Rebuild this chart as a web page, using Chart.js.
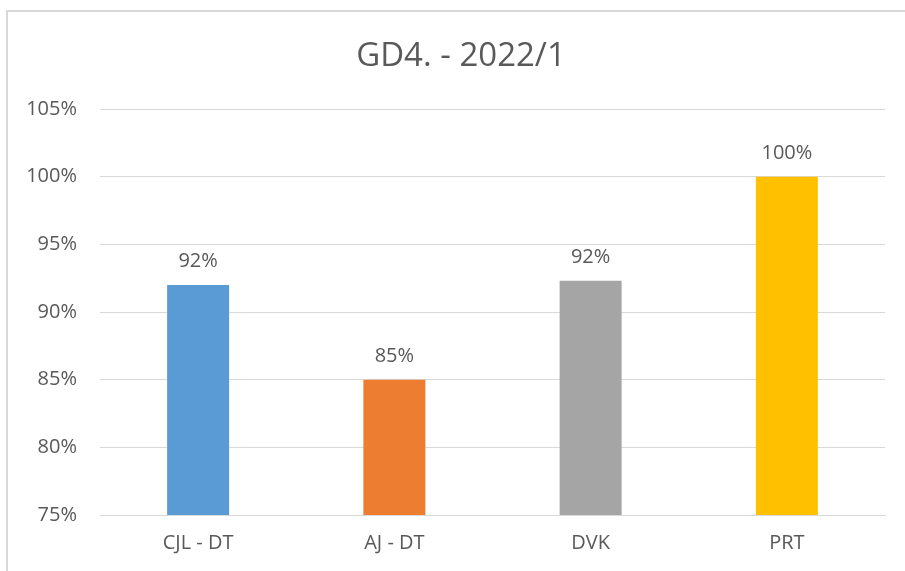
<!DOCTYPE html>
<html>
<head>
<meta charset="utf-8">
<script src="https://cdn.jsdelivr.net/npm/chart.js@4.4.0/dist/chart.umd.min.js"></script>
<style>
    html, body { margin: 0; padding: 0; background: #fff; overflow: hidden; width: 905px; height: 571px; }
    .frame { position: absolute; left: 6px; top: 10px; width: 940px; height: 600px; border: 2px solid #d9d9d9; box-sizing: border-box; }
    .wrap { position: absolute; left: 0; top: 0; width: 922px; height: 571px; }
</style>
</head>
<body>
<div class="frame"></div>
<div class="wrap"><canvas id="gradeChart"></canvas></div>
<script>
const categories = ['CJL - DT', 'AJ - DT', 'DVK', 'PRT'];
const values = [92.0, 85.0, 92.3, 100.0];
const barColors = ['#5B9BD5', '#ED7D31', '#A5A5A5', '#FFC000'];
const yTicks = [75, 80, 85, 90, 95, 100, 105];

const textColor = '#595959';
const gridColor = '#d9d9d9';
const fontFamily = '"Open Sans", sans-serif';

// draws the percent value above each bar
const valueLabels = {
    id: 'valueLabels',
    afterDatasetsDraw(chart) {
        const ctx = chart.ctx;
        const meta = chart.getDatasetMeta(0);
        ctx.save();
        ctx.font = '20px ' + fontFamily;
        ctx.fillStyle = textColor;
        ctx.textAlign = 'center';
        ctx.textBaseline = 'alphabetic';
        meta.data.forEach((bar, i) => {
            ctx.fillText(Math.round(values[i]) + '%', bar.x, bar.y - 18);
        });
        ctx.restore();
    }
};

const ctx = document.getElementById('gradeChart').getContext('2d');
const gradeChart = new Chart(ctx, {
    type: 'bar',
    data: {
        labels: categories,
        datasets: [{
            data: values,
            backgroundColor: barColors,
            borderWidth: 0,
            barPercentage: 0.316,
            categoryPercentage: 1
        }]
    },
    options: {
        responsive: true,
        maintainAspectRatio: false,
        animation: false,
        layout: { padding: 0 },
        plugins: {
            legend: { display: false },
            tooltip: { enabled: false },
            title: {
                display: true,
                text: 'GD4. - 2022/1',
                color: textColor,
                font: { family: fontFamily, size: 33, weight: 'normal' },
                padding: { top: 37, bottom: 32.4 }
            }
        },
        scales: {
            x: {
                grid: { display: false, drawTicks: false },
                border: { display: true, color: gridColor, width: 1 },
                ticks: {
                    color: textColor,
                    font: { family: fontFamily, size: 20 },
                    padding: 16
                },
                afterFit(scale) { scale.height = 56; }
            },
            y: {
                min: 75,
                max: 105,
                afterBuildTicks(scale) { scale.ticks = yTicks.map(v => ({ value: v })); },
                grid: { color: gridColor, lineWidth: 1, drawTicks: false },
                border: { display: false },
                ticks: {
                    color: textColor,
                    font: { family: fontFamily, size: 20 },
                    padding: 23,
                    callback: v => v + '%'
                },
                afterFit(scale) { scale.width = 100; }
            },
            // empty right-side spacer so the title stays centred on the frame
            spacer: {
                type: 'linear',
                position: 'right',
                display: true,
                grid: { display: false, drawTicks: false },
                border: { display: false },
                ticks: { display: false },
                afterFit(scale) { scale.width = 37; }
            }
        }
    },
    plugins: [valueLabels]
});
</script>
</body>
</html>
